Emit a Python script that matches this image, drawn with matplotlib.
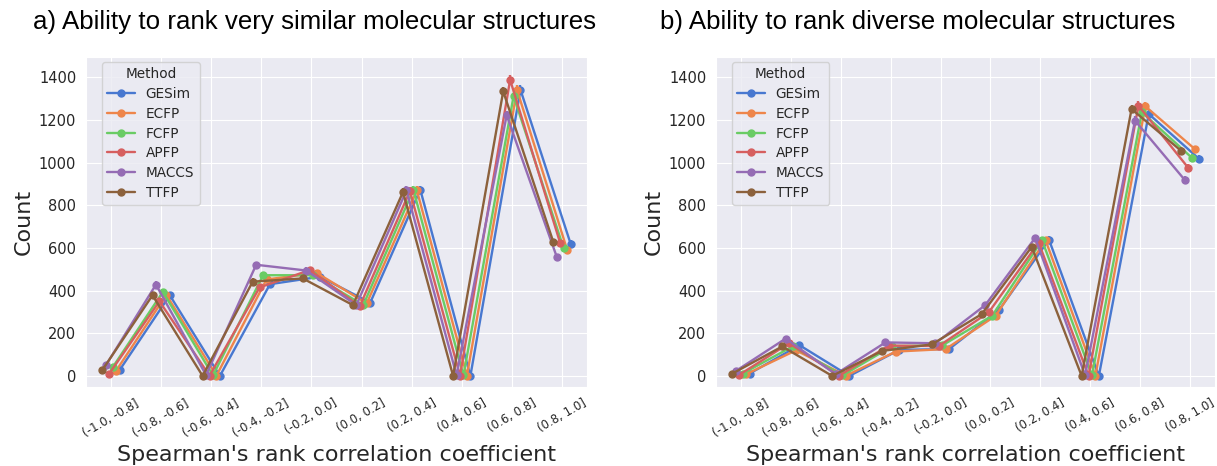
import matplotlib
matplotlib.use("Agg")
import matplotlib.pyplot as plt
import seaborn as sns
import numpy as np

categories = ["(-1.0, -0.8]", "(-0.8, -0.6]", "(-0.6, -0.4]", "(-0.4, -0.2]", "(-0.2, 0.0]",
              "(0.0, 0.2]", "(0.2, 0.4]", "(0.4, 0.6]", "(0.6, 0.8]", "(0.8, 1.0]"]
methods = ["GESim", "ECFP", "FCFP", "APFP", "MACCS", "TTFP"]

# Panel a) very similar structures
a_gesim = [28, 378, 0, 430, 465, 343, 873, 0, 1341, 620]
a_ecfp = [25, 380, 1, 452, 483, 340, 870, 1, 1341, 591]
a_fcfp = [41, 394, 2, 472, 472, 332, 873, 2, 1312, 598]
a_apfp = [11, 350, 1, 415, 496, 327, 867, 1, 1388, 622]
a_maccs = [50, 428, 4, 521, 494, 332, 870, 3, 1222, 558]
a_ttfp = [28, 378, 0, 442, 457, 332, 862, 0, 1334, 628]
a_err = [8, 15, 4, 15, 15, 12, 18, 5, 22, 15]

# Panel b) diverse structures
b_gesim = [11, 144, 0, 122, 126, 309, 639, 0, 1228, 1019]
b_ecfp = [8, 120, 1, 114, 126, 282, 636, 1, 1264, 1062]
b_fcfp = [11, 138, 2, 140, 143, 282, 636, 2, 1236, 1023]
b_apfp = [5, 153, 1, 142, 140, 298, 625, 1, 1267, 975]
b_maccs = [23, 175, 8, 157, 153, 332, 647, 3, 1197, 918]
b_ttfp = [11, 138, 0, 117, 148, 290, 605, 0, 1251, 1054]
b_err = [6, 10, 4, 10, 10, 12, 15, 5, 20, 18]

titles = ["a) Ability to rank very similar molecular structures",
          "b) Ability to rank diverse molecular structures"]

sns.set_style("darkgrid")
plt.rcParams['font.family'] = ['DejaVu Sans']
colors = sns.color_palette("muted", 6)

fig = plt.figure(figsize=(12.17, 4.66), dpi=100)
W, H = 1217, 466
ax1 = fig.add_axes([86 / W, 1 - 387 / H, 501 / W, 330 / H])
ax2 = fig.add_axes([716 / W, 1 - 387 / H, 499 / W, 330 / H])

panels = [
    (ax1, [a_gesim, a_ecfp, a_fcfp, a_apfp, a_maccs, a_ttfp], a_err, titles[0], 33),
    (ax2, [b_gesim, b_ecfp, b_fcfp, b_apfp, b_maccs, b_ttfp], b_err, titles[1], 660),
]

x = np.arange(len(categories))
step = 0.069
for ax, series, err, title, tx in panels:
    for j, (m, vals) in enumerate(zip(methods, series)):
        off = (2.5 - j) * step
        xs = x + off
        ax.plot(xs, vals, '-o', color=colors[j], lw=1.7, ms=5, label=m, zorder=2 + j)
        ax.vlines(xs, np.array(vals) - np.array(err), np.array(vals) + np.array(err),
                  color=colors[j], lw=1.7, zorder=2 + j)
    ax.set_xlim(-0.5, 9.5)
    ax.set_ylim(-52, 1495)
    ax.set_yticks([0, 200, 400, 600, 800, 1000, 1200, 1400])
    ax.set_xticks(x)
    ax.set_xticklabels(categories, rotation=30, fontsize=8.5)
    ax.tick_params(axis='y', labelsize=10.5)
    ax.set_ylabel("Count", fontsize=16)
    ax.set_xlabel("Spearman's rank correlation coefficient", fontsize=16)
    leg = ax.legend(title="Method", loc="upper left", bbox_to_anchor=(0.032, 0.985),
                    borderaxespad=0, fontsize=9.8, title_fontsize=9.8, labelspacing=0.42)
    fig.text(tx / W, 1 - 22 / H, title, fontsize=18.6, family=['Liberation Sans', 'DejaVu Sans'],
             color='black', ha='left', va='center')

fig.savefig("out.png", dpi=100)
